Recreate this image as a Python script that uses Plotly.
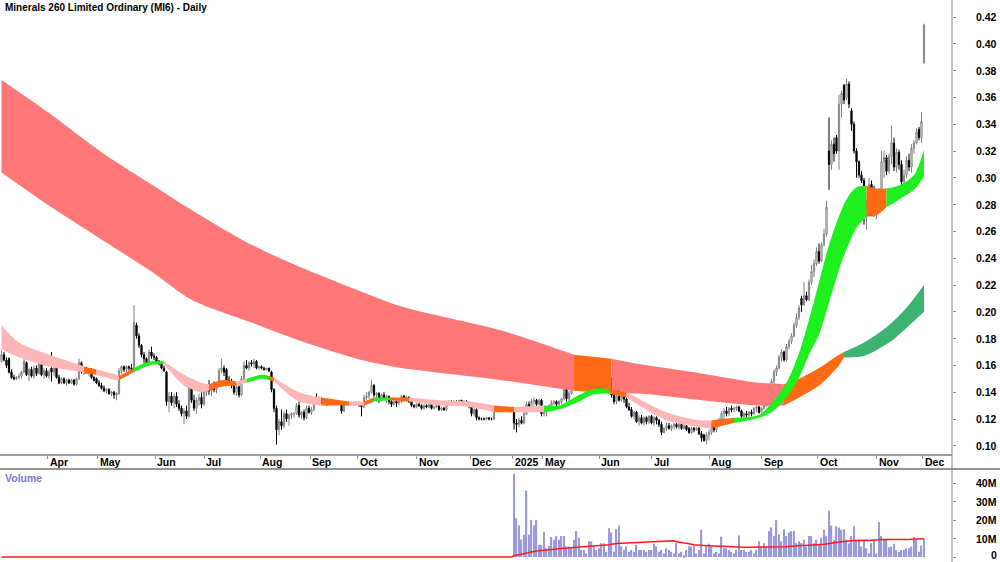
import plotly.graph_objects as go
import pandas as pd

FONT = "Liberation Sans, Arial, sans-serif"
FS = 10.5

title_text = "Minerals 260 Limited Ordinary (MI6) - Daily"
month_labels = ["Apr", "May", "Jun", "Jul", "Aug", "Sep", "Oct", "Nov", "Dec", "2025",
                "May", "Jun", "Jul", "Aug", "Sep", "Oct", "Nov", "Dec"]
month_ticks = [18.5, 38.5, 61.5, 81, 103.5, 123.5, 142.5, 166, 187.5, 204.5,
               216.5, 239, 260, 283, 304, 326.5, 350, 368.5]
price_ticks = [0.10, 0.12, 0.14, 0.16, 0.18, 0.20, 0.22, 0.24, 0.26, 0.28,
               0.30, 0.32, 0.34, 0.36, 0.38, 0.40, 0.42]
vol_ticks = [0, 10e6, 20e6, 30e6, 40e6]
vol_tick_labels = ["0", "10M", "20M", "30M", "40M"]

# daily OHLC in thousandths of a dollar (bar 0 .. 369)
opens = [
    163,168,164,165,155,151,150,151,152,155, 162,153,157,152,158,154,166,153,156,152,
    158,155,158,151,147,150,147,149,147,149, 146,150,162,156,158,155,157,151,150,147,
    145,143,141,142,139,140,138,139,156,159, 157,159,158,157,190,182,175,168,165,161,
    170,167,166,163,162,158,155,133,137,132, 137,131,128,124,126,122,145,134,128,134,
    136,131,140,142,141,144,142,145,156,158, 157,149,148,145,140,144,138,150,160,158,
    162,161,163,158,159,158,157,158,155,142, 128,112,118,115,124,120,123,124,124,130,
    123,125,121,128,125,127,134,133,135,132, 133,132,133,132,133,132,133,126,131,132,
    131,132,131,132,131,129,136,137,140,145, 138,139,134,138,135,137,133,131,133,132,
    133,137,134,136,133,130,129,131,130,128, 130,129,131,128,129,130,127,128,127,132,
    133,131,133,133,134,132,133,132,130,124, 127,121,120,120,120,121,120,120,128,127,
    128,127,128,128,126,128,117,116,119,117, 124,131,128,133,134,131,134,124,126,127,
    130,132,133,131,133,135,143,135,139,150, 156,157,155,158,152,153,148,152,145,151,
    154,149,156,151,150,138,133,137,134,137, 135,129,127,122,125,118,121,117,121,118,
    122,117,121,119,116,110,113,115,113,115, 116,114,116,113,115,113,110,113,112,113,
    109,108,104,108,110,115,112,115,119,124, 126,124,128,127,128,129,126,122,124,123,
    125,124,128,129,125,128,130,138,143,148, 155,158,166,170,164,174,178,182,190,196,
    210,205,212,209,222,230,236,245,238,250, 258,320,310,325,330,320,355,369,360,370,
    350,340,320,312,302,298,272,278,295,292, 275,287,283,312,315,305,316,326,308,319,
    310,297,302,313,308,322,326,336,330,386,
]
highs = [
    171,170,166,166,157,153,152,154,156,165, 163,158,159,160,160,169,167,158,158,157,
    170,160,159,153,151,151,150,150,150,150, 151,165,163,159,159,158,158,152,151,149,
    147,145,143,143,141,141,140,158,160,160, 160,160,161,205,192,184,176,170,166,172,
    174,169,167,164,163,160,156,140,140,139, 140,134,130,128,130,148,146,138,136,139,
    140,142,145,149,145,148,146,158,165,160, 158,152,150,147,146,145,152,163,164,163,
    164,165,164,160,160,159,158,158,156,143, 130,120,127,126,127,124,125,125,132,133,
    126,127,130,130,129,136,139,137,136,134, 134,134,134,134,134,134,133,132,133,133,
    133,133,133,133,132,138,140,141,149,146, 140,140,139,140,138,137,134,134,134,134,
    138,138,137,137,134,131,132,132,131,131, 131,132,132,130,131,130,129,129,133,134,
    134,134,134,134,134,134,134,133,132,128, 128,122,121,121,121,121,121,129,129,129,
    129,129,129,129,129,129,120,121,122,126, 133,133,135,136,135,135,135,128,128,131,
    134,134,134,134,136,145,144,141,152,158, 159,159,159,159,155,155,154,156,153,157,
    156,160,158,154,151,139,138,139,138,139, 136,132,129,126,126,123,123,122,122,123,
    123,122,122,120,118,114,117,117,116,117, 118,117,117,116,116,114,114,114,114,114,
    111,109,110,112,117,117,116,121,126,128, 129,129,130,129,130,130,127,125,126,126,
    127,129,130,130,129,131,140,145,150,157, 160,168,172,171,176,180,184,192,199,205,
    212,222,215,224,235,239,248,251,252,262, 283,345,328,330,332,362,365,370,374,372,
    352,342,322,313,305,300,283,300,298,294, 290,292,320,320,317,318,339,330,322,321,
    313,306,316,318,325,328,337,338,349,415,
]
lows = [
    162,163,158,154,150,149,149,150,150,154, 152,148,151,150,152,153,152,150,151,150,
    148,152,150,146,146,146,145,146,146,145, 145,149,154,153,154,152,150,148,146,144,
    142,140,139,138,137,135,134,138,154,155, 155,156,155,155,180,173,166,162,160,160,
    165,164,162,160,157,155,130,125,130,128, 129,126,122,116,120,121,132,126,124,130,
    128,130,137,138,137,140,139,144,154,152, 147,146,143,138,137,136,137,149,157,156,
    159,158,157,157,157,156,156,155,140,125, 101,108,112,113,118,115,120,121,123,121,
    120,119,120,124,123,126,131,130,131,131, 130,131,131,130,131,131,124,125,130,130,
    130,130,130,129,122,128,134,135,139,136, 133,132,133,134,132,131,129,130,129,130,
    132,133,133,132,129,128,128,129,127,127, 128,128,127,127,128,126,126,126,126,130,
    130,130,131,131,131,131,131,128,122,122, 119,119,119,119,119,119,119,119,126,126,
    126,126,126,125,125,112,110,114,116,116, 123,127,127,130,129,130,122,122,122,126,
    129,130,129,130,131,134,133,133,138,144, 150,152,153,151,148,146,146,143,144,148,
    147,148,150,148,136,131,131,133,133,132, 128,126,121,120,117,115,116,115,116,116,
    116,115,116,114,108,109,111,112,111,112, 113,112,112,112,111,109,109,110,111,108,
    103,103,101,104,108,110,110,114,118,120, 122,122,125,125,126,125,121,120,121,121,
    122,123,125,124,124,127,129,136,141,146, 152,157,163,163,163,172,176,181,188,194,
    200,205,208,208,220,226,234,236,237,249, 256,291,306,312,318,306,345,355,358,352,
    335,318,300,300,296,265,261,276,280,271, 269,279,282,300,302,303,310,305,304,306,
    294,289,300,305,304,318,325,328,326,385,
]
closes = [
    168,164,160,155,151,150,151,152,155,163, 153,157,152,158,154,167,153,156,152,155,
    155,158,151,147,150,147,149,147,149,146, 150,162,156,158,155,157,151,149,147,145,
    143,141,142,139,140,138,139,156,159,157, 159,158,157,192,182,175,168,165,161,170,
    167,166,163,161,158,156,133,137,132,137, 131,128,124,126,122,145,134,128,134,136,
    131,140,142,141,144,142,145,156,158,155, 149,148,145,140,144,138,150,160,158,162,
    161,163,158,159,158,157,158,156,142,128, 112,118,115,124,120,123,124,124,130,123,
    125,121,128,125,127,134,133,135,132,133, 132,133,132,133,132,133,126,131,132,131,
    132,131,132,131,129,136,137,140,145,138, 139,134,138,135,137,133,131,133,132,133,
    137,134,136,133,130,129,131,130,128,130, 129,131,128,129,130,127,128,127,132,133,
    131,133,132,134,132,133,132,130,124,127, 121,120,120,120,121,120,120,128,127,128,
    127,128,127,126,128,117,116,119,117,124, 131,128,133,134,131,134,124,126,127,130,
    132,133,131,133,135,143,135,139,150,156, 157,155,158,152,153,148,152,145,151,154,
    149,156,151,150,138,133,137,134,137,135, 129,127,122,125,118,121,117,121,118,122,
    117,121,119,116,110,113,115,113,115,116, 114,116,113,115,112,110,113,112,113,109,
    106,104,108,110,115,112,115,119,124,126, 124,128,127,128,129,126,122,124,123,125,
    124,128,129,125,128,130,138,143,148,155, 158,166,170,164,174,178,182,190,196,203,
    205,212,209,222,230,236,245,238,250,258, 278,310,325,318,320,355,363,358,370,355,
    340,320,312,302,298,272,278,295,292,275, 287,283,312,315,305,316,326,308,319,310,
    297,302,313,308,322,326,334,330,342,414,
]

# volume in millions: no volume recorded before the 2025 bar (bar 205)
volume_before_2025 = [0] * 205
volume_2025 = [
    45,21,17,9.4,12,36,12,20,17,20, 6.6,6.6,13.6,4.7,6,10.8,9.4,11.3,9.4,11.3,
    11.3,5.7,5.7,4.7,9.4,14,10.4,3.8,3.8,1.9, 8.5,8.5,5.7,3.8,4.7,7.5,7.5,2.8,15.5,13.2,
    2.8,15,17,5.7,3.8,5.7,2.8,3.8,2.8,6.6, 3.8,3.8,3.8,2.8,3.8,3.8,7.2,5.7,2.8,3.8,
    1.9,4.7,3.8,2.8,1.9,7.5,1.9,2.8,0.9,3.8, 5.7,5.7,6.6,1.9,3.8,14.7,1.9,5.7,7.2,5.7,
    1.9,2.8,1.9,11,4.7,4.7,3.8,2.8,1.9,3.8, 11.7,3.8,3.8,2.8,2.8,3.8,1.9,3.8,8.5,5.7,
    7.5,5.7,14,16,11.3,20,12.3,8.5,15,11.3, 13.2,14,14,7.5,8.5,7.5,9.4,5.7,11.3,11.3,
    7.5,9.4,6.6,10.4,14.7,11.3,25,17,9.4,16.6, 16,14.7,15,9.4,7.5,11.3,16.6,9.4,9.4,5.7,
    9.4,4.7,1.9,7.5,9.4,1.9,19,11.3,9.4,9.8, 5.3,5.7,7.2,3.8,2.8,3.8,3.8,4.7,4.7,5.7,
    10.8,9.4,2.8,6.2,9.8,
]
volume_ma_window = 65

# long-term trend ribbon: sample bars, upper / lower edges (thousandths), state
long_x = [0, 20, 40, 60, 76, 100, 120, 144, 160, 200, 229, 244, 255, 280, 303, 313,
          319, 327, 335, 337, 345, 355, 362, 369]
long_hi = [373, 347, 319, 295, 276, 250, 233, 215, 204, 186, 168, 165, 161, 154, 147, 146,
           150, 158, 168, 170, 177, 190, 203, 220]
long_lo = [304, 278, 254, 230, 209, 192, 178, 164, 158, 149, 141, 139, 139, 134, 130, 130,
           136, 145, 160, 166, 167, 177, 188, 200]
long_state = ["R", "R", "R", "R", "R", "R", "R", "R", "R", "R", "O", "R", "R", "R", "R", "O",
              "O", "O", "O", "G", "G", "G", "G", "G"]

# short-term trend ribbon
short_x = [0, 7, 19, 32, 33, 38, 46, 47, 53, 59,
           65, 73, 80, 83, 88, 94, 98, 104, 107, 109,
           119, 128, 139, 145, 149, 155, 163, 175, 187, 197,
           205, 217, 223, 231, 236, 240, 243, 250, 266, 279,
           284, 293, 303, 308, 314, 319, 323, 327, 331, 336,
           339, 342, 346, 350, 354, 360, 365, 369]
short_hi = [190, 177, 168, 160, 159, 157, 153, 152, 158, 163,
            163, 153, 147, 146, 149, 148, 150, 153, 152, 151,
            140, 136, 133, 133, 136, 136, 136, 134, 133, 130,
            129, 130, 130, 138, 142, 143, 142, 140, 125, 119,
            119, 121, 123, 132, 147, 169, 194, 222, 250, 276,
            287, 293, 294, 292, 292, 295, 302, 321]
short_lo = [172, 166, 159, 155, 154, 153, 149, 149, 155, 160,
            161, 145, 140, 141, 144, 145, 147, 150, 149, 148,
            133, 130, 130, 130, 133, 134, 133, 130, 129, 125,
            125, 125, 127, 133, 138, 139, 139, 136, 119, 114,
            113, 117, 121, 125, 136, 151, 168, 183, 207, 237,
            251, 263, 271, 272, 278, 285, 291, 301]
short_state = ["P", "P", "P", "P", "O", "P", "P", "O", "G", "G",
               "P", "P", "P", "O", "O", "P", "G", "G", "O", "P",
               "P", "O", "P", "O", "G", "O", "P", "P", "P", "O",
               "P", "G", "G", "G", "G", "G", "O", "P", "P", "P",
               "O", "G", "G", "G", "G", "G", "G", "G", "G", "G",
               "G", "G", "O", "O", "G", "G", "G", "G"]

long_palette = {"R": "#FF7777", "O": "#FF6A14", "G": "#3CB371"}
short_palette = {"P": "#FFB6B6", "O": "#FF6A14", "G": "#1EF01E"}

n_bars = len(closes)
bars = list(range(n_bars))

fig = go.Figure()


def add_ribbon(xs, hi, lo, states, palette):
    n = len(xs)
    start = 0
    while start < n - 1:
        end = start + 1
        while end < n - 1 and states[end] == states[start]:
            end += 1
        sx = xs[start:end + 1]
        col = palette[states[start]]
        fig.add_trace(go.Scatter(
            x=sx, y=[v / 1000 for v in lo[start:end + 1]], mode="lines",
            line=dict(width=0, shape="spline", smoothing=0.8, color=col),
            hoverinfo="skip", showlegend=False, xaxis="x", yaxis="y"))
        fig.add_trace(go.Scatter(
            x=sx, y=[v / 1000 for v in hi[start:end + 1]], mode="lines",
            line=dict(width=0, shape="spline", smoothing=0.8, color=col),
            fill="tonexty", fillcolor=col,
            hoverinfo="skip", showlegend=False, xaxis="x", yaxis="y"))
        start = end


add_ribbon(long_x, long_hi, long_lo, long_state, long_palette)
add_ribbon(short_x, short_hi, short_lo, short_state, short_palette)

fig.add_trace(go.Candlestick(
    x=bars,
    open=[v / 1000 for v in opens], high=[v / 1000 for v in highs],
    low=[v / 1000 for v in lows], close=[v / 1000 for v in closes],
    increasing=dict(line=dict(color="#808080", width=1), fillcolor="white"),
    decreasing=dict(line=dict(color="#000000", width=1), fillcolor="#000000"),
    whiskerwidth=0, hoverinfo="skip", showlegend=False, xaxis="x", yaxis="y"))

volume_all = volume_before_2025 + [v * 1e6 for v in volume_2025]
volume_ma = pd.Series(volume_all).rolling(volume_ma_window, min_periods=1).mean()

fig.add_trace(go.Bar(
    x=bars[len(volume_before_2025):], y=volume_all[len(volume_before_2025):],
    marker=dict(color="#9A9ADC", line=dict(width=0)), width=0.55,
    hoverinfo="skip", showlegend=False, xaxis="x2", yaxis="y2"))
fig.add_trace(go.Scatter(
    x=bars, y=volume_ma, mode="lines", line=dict(color="#FF1A1A", width=1.5),
    hoverinfo="skip", showlegend=False, xaxis="x2", yaxis="y2"))

H = 562.0
price_bottom_px = 455
vol_top_px = 469
plot_right = 0.952
xrange = [-0.6, 380.2]

annotations = [
    dict(text="<b>" + title_text + "</b>", xref="paper", yref="paper",
         x=0.003, y=1 - 8 / H, xanchor="left", yanchor="middle", showarrow=False,
         font=dict(family=FONT, size=10, color="#000000")),
    dict(text="<b>Volume</b>", xref="paper", yref="paper",
         x=0.003, y=1 - 478 / H, xanchor="left", yanchor="middle", showarrow=False,
         font=dict(family=FONT, size=FS, color="#7B7BC4")),
]
for t, lab in zip(month_ticks, month_labels):
    annotations.append(dict(
        text="<b>" + lab + "</b>", xref="x", yref="paper", x=t, y=1 - 462 / H,
        xanchor="left", yanchor="middle", xshift=0, showarrow=False,
        font=dict(family=FONT, size=FS, color="#000000")))
for v in price_ticks:
    annotations.append(dict(
        text="<b>%.2f</b>" % v, xref="paper", yref="y", x=0.974, y=v,
        xanchor="left", yanchor="middle", showarrow=False,
        font=dict(family=FONT, size=FS, color="#000000")))
for v, lab in zip(vol_ticks, vol_tick_labels):
    annotations.append(dict(
        text="<b>" + lab + "</b>", xref="paper", yref="y2", x=0.999, y=v,
        xanchor="right", yanchor="middle", showarrow=False,
        yshift=2 if v == 0 else 0,
        font=dict(family=FONT, size=FS, color="#000000")))

shapes = [
    dict(type="line", xref="paper", yref="paper", x0=0, x1=plot_right,
         y0=1 - price_bottom_px / H, y1=1 - price_bottom_px / H,
         line=dict(color="#A0A0A0", width=2)),
    dict(type="line", xref="paper", yref="paper", x0=0, x1=1,
         y0=1 - vol_top_px / H, y1=1 - vol_top_px / H,
         line=dict(color="#707070", width=1.5)),
    dict(type="line", xref="paper", yref="paper", x0=plot_right, x1=plot_right,
         y0=0, y1=1, line=dict(color="#808080", width=1)),
]

fig.update_layout(
    width=1000, height=562,
    margin=dict(l=0, r=0, t=0, b=0),
    paper_bgcolor="white", plot_bgcolor="white",
    showlegend=False, hovermode=False,
    annotations=annotations, shapes=shapes,
    xaxis=dict(domain=[0, plot_right], range=xrange, anchor="y",
               showgrid=False, zeroline=False, showline=False,
               tickmode="array", tickvals=month_ticks, ticks="outside", ticklen=3,
               tickcolor="#909090", showticklabels=False,
               rangeslider=dict(visible=False), fixedrange=True),
    yaxis=dict(domain=[1 - price_bottom_px / H, 1], range=[0.09313, 0.43269],
               side="right", anchor="x", showgrid=False, zeroline=False, showline=False,
               tickmode="array", tickvals=price_ticks, showticklabels=False,
               ticks="outside", ticklen=3, tickcolor="#909090"),
    xaxis2=dict(domain=[0, plot_right], range=xrange, anchor="y2",
                showgrid=False, zeroline=False, showline=False,
                showticklabels=False, ticks=""),
    yaxis2=dict(domain=[0, 1 - vol_top_px / H], range=[-2.7e6, 47.6e6],
                side="right", anchor="x2", showgrid=False, zeroline=False, showline=False,
                tickmode="array", tickvals=vol_ticks, ticks="outside", ticklen=3,
                tickcolor="#909090", showticklabels=False),
)

fig.write_html("out.html")
